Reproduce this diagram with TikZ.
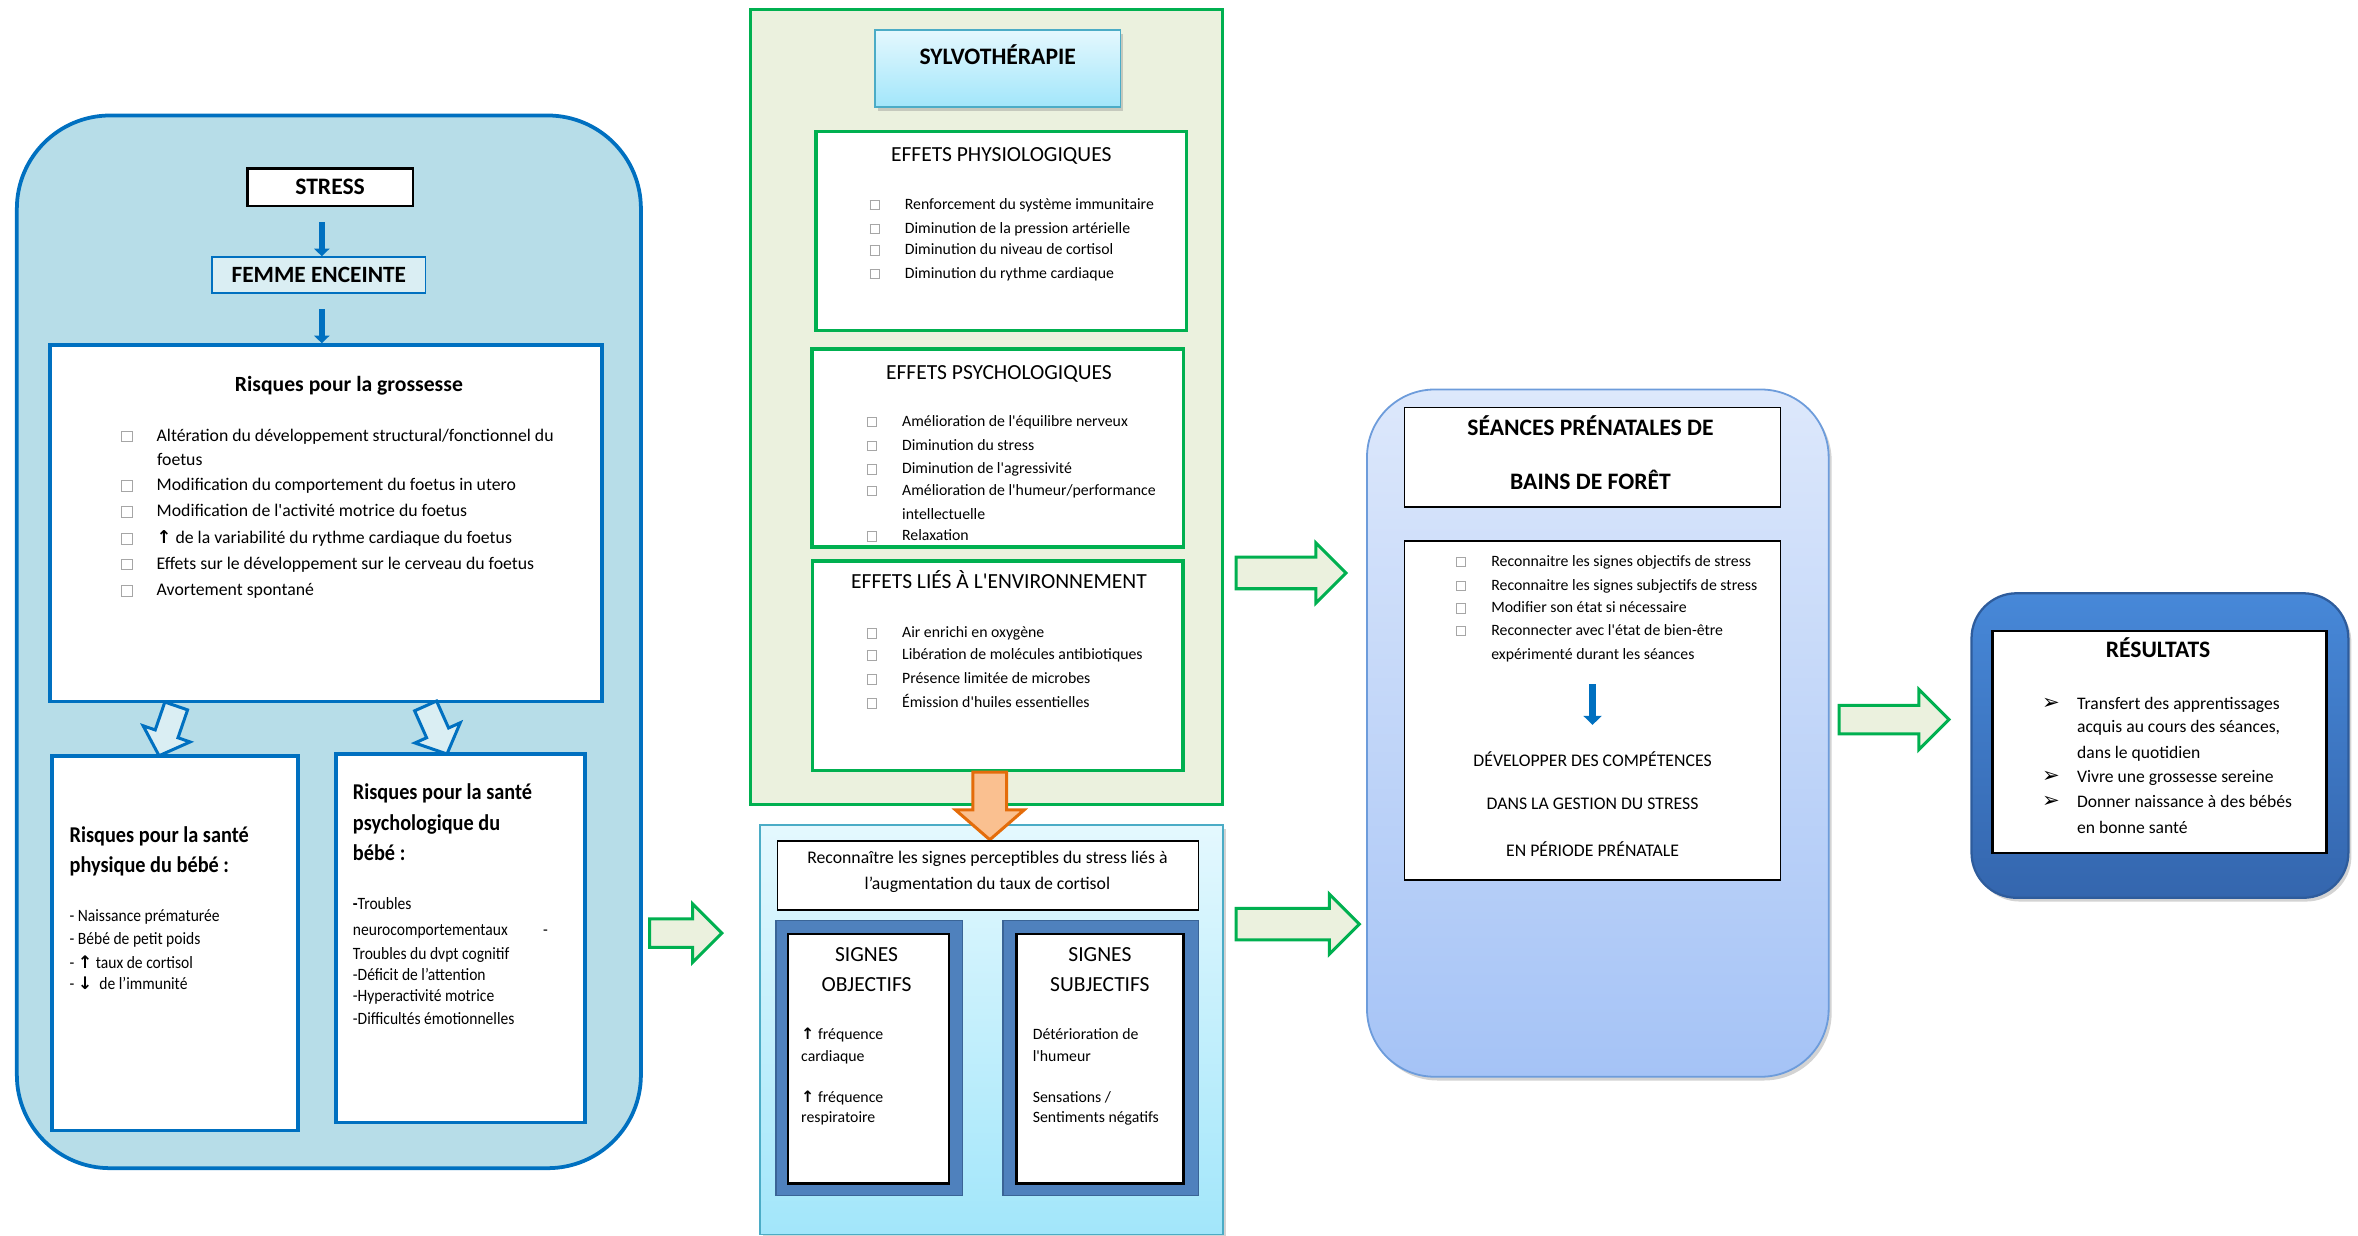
\documentclass[tikz,border=0pt]{standalone}
\usepackage{fontspec}
\setmainfont{Carlito}[Ligatures=TeXOff]
\newfontfamily\narrowfont{Carlito}[FakeStretch=0.9]
\newfontfamily\symfont{DejaVu Sans}
\usetikzlibrary{shapes.arrows,shadows,arrows.meta}

\definecolor{bleu}{HTML}{0070C0}
\definecolor{bleuclair}{HTML}{B7DDE8}
\definecolor{bleupale}{HTML}{DAEEF3}
\definecolor{vert}{HTML}{00B050}
\definecolor{vertpale}{HTML}{EBF1DE}
\definecolor{orangefonce}{HTML}{E46C0A}
\definecolor{orangepale}{HTML}{FAC090}
\definecolor{cadre}{HTML}{4F81BD}
\definecolor{cadrebord}{HTML}{3A6496}
\definecolor{cyanbord}{HTML}{4BACC6}
\definecolor{cyanhaut}{HTML}{E4F8FE}
\definecolor{cyanbas}{HTML}{A2E6FA}
\definecolor{seanceshaut}{HTML}{DDE8FB}
\definecolor{seancesbas}{HTML}{A5C3F6}
\definecolor{seancesbord}{HTML}{6D9CDB}
\definecolor{resulthaut}{HTML}{4788D8}
\definecolor{resultbas}{HTML}{3466AE}
\definecolor{resultbord}{HTML}{2E5C9C}
\definecolor{gris}{HTML}{A6A6A6}

\newcommand{\fs}[1]{\fontsize{#1}{#1}\selectfont}
\newcommand{\up}{{\symfont\bfseries ↑}}
\newcommand{\down}{{\symfont\bfseries ↓}}
\newcommand{\puce}{{\symfont\scalebox{1.2}{➢}}}
\newcommand{\cb}{\textcolor{gris}{\setlength{\fboxsep}{0pt}\setlength{\fboxrule}{0.5pt}\fbox{\rule{0pt}{.55em}\rule{.55em}{0pt}}}}
\newcommand{\caseitem}[1]{\makebox[23.5pt][l]{\cb}#1}

\tikzset{
  taille/.style n args={2}{minimum width=#1pt, minimum height=#2pt, inner sep=0pt},
  ligne/.style={inner sep=0pt, anchor=west, text height=1.5ex, text depth=.25ex, yshift=-1.5pt},
  centre/.style={inner sep=0pt, text height=1.5ex, text depth=.25ex, yshift=-1.5pt},
  fleche/.style n args={4}{single arrow, anchor=tail, inner xsep=0pt, inner ysep=#1pt,
    text height=0pt, text depth=0pt, single arrow head extend=#2pt,
    minimum height=#3pt, minimum width=0pt, single arrow tip angle=#4},
  flechevert/.style={draw=vert, fill=vertpale, line width=2pt},
  flechebleue/.style={draw=bleu, line width=4pt, -{Triangle[width=10pt,length=5pt]}},
  ombre/.style={drop shadow={opacity=.35, shadow xshift=2pt, shadow yshift=-2.5pt}}
}

\begin{document}
\begin{tikzpicture}[x=1pt,y=-1pt]
\useasboundingbox (0,0) rectangle (1568,821.3);

% panneau de gauche
\node[taille={415}{700}, draw=bleu, fill=bleuclair, line width=2.5pt, rounded corners=62pt] (gauche) at (218.7,426.8) {};
\node[taille={110}{25}, draw=black, fill=white, line width=1.5pt, font=\bfseries\fs{15.7}] (stress) at (219.5,124.5) {STRESS};
\node[taille={142}{24}, draw=bleu, fill=bleupale, line width=1.2pt, font=\bfseries\fs{15.5}] (femme) at (212,183) {FEMME ENCEINTE};
\node[taille={367}{237}, draw=bleu, fill=white, line width=2.5pt] (grossesse) at (217,348) {};
\node[taille={163.5}{249}, draw=bleu, fill=white, line width=2.5pt] (physique) at (116.2,627.2) {};
\node[taille={165.5}{245}, draw=bleu, fill=white, line width=2.5pt] (psycho) at (306,624) {};

\coordinate (axe) at (214,0);
\draw[flechebleue, shorten <=10pt] (stress.south -| axe) -- (femme.north -| axe);
\draw[flechebleue, shorten <=10pt] (femme.south -| axe) -- (grossesse.north -| axe);

\node[fleche={7}{8.5}{35}{94}, draw=bleu, fill=bleupale, line width=2pt, rotate=-109] (versPhysique) at (117.5,468.5) {};
\node[fleche={7}{8.5}{35}{94}, draw=bleu, fill=bleupale, line width=2pt, rotate=-66] (versPsycho) at (282.6,468.5) {};

\node[centre, font=\bfseries\fs{14.4}] (gt) at (232,255.7) {Risques pour la grossesse};
\node[ligne, font=\fs{11.8}] (g1) at (80.5,289) {\caseitem{Altération du développement structural/fonctionnel du}};
\node[ligne, font=\fs{11.8}] (g2) at (104.3,305) {foetus};
\node[ligne, font=\fs{11.8}] (g3) at (80.5,322) {\caseitem{Modification du comportement du foetus in utero}};
\node[ligne, font=\fs{11.8}] (g4) at (80.5,339) {\caseitem{Modification de l'activité motrice du foetus}};
\node[ligne, font=\fs{11.8}] (g5) at (80.5,357) {\caseitem{\up{} de la variabilité du rythme cardiaque du foetus}};
\node[ligne, font=\fs{11.8}] (g6) at (80.5,374) {\caseitem{Effets sur le développement sur le cerveau du foetus}};
\node[ligne, font=\fs{11.8}] (g7) at (80.5,391.6) {\caseitem{Avortement spontané}};

\node[ligne, font=\narrowfont\bfseries\fs{15}] (pt1) at (46.1,555.7) {Risques pour la santé};
\node[ligne, font=\narrowfont\bfseries\fs{15}] (pt2) at (46.1,575.8) {physique du bébé :};
\node[ligne, font=\narrowfont\fs{11.5}] (p1) at (46.1,608) {- Naissance prématurée};
\node[ligne, font=\narrowfont\fs{11.5}] (p2) at (46.1,623.8) {- Bébé de petit poids};
\node[ligne, font=\narrowfont\fs{11.5}] (p3) at (46.1,639.7) {- \up{} taux de cortisol};
\node[ligne, font=\narrowfont\fs{11.5}] (p4) at (46.1,653.8) {- \down{}\ \ de l’immunité};

\node[ligne, font=\narrowfont\bfseries\fs{15}] (st1) at (234.5,527) {Risques pour la santé};
\node[ligne, font=\narrowfont\bfseries\fs{15}] (st2) at (234.5,547.5) {psychologique du};
\node[ligne, font=\narrowfont\bfseries\fs{15}] (st3) at (234.5,567.6) {bébé :};
\node[ligne, font=\narrowfont\fs{11.5}] (s1) at (234.5,600) {{\bfseries -}Troubles};
\node[ligne, font=\narrowfont\fs{11.5}] (s2) at (234.5,617.5) {neurocomportementaux};
\node[ligne, font=\narrowfont\fs{11.5}] (s2b) at (361,617.5) {-};
\node[ligne, font=\narrowfont\fs{11.5}] (s3) at (234.5,633.4) {Troubles du dvpt cognitif};
\node[ligne, font=\narrowfont\fs{11.5}] (s4) at (234.5,647.6) {-Déficit de l’attention};
\node[ligne, font=\narrowfont\fs{11.5}] (s5) at (234.5,661.7) {-Hyperactivité motrice};
\node[ligne, font=\narrowfont\fs{11.5}] (s6) at (234.5,676.5) {-Difficultés émotionnelles};

\node[fleche={8.5}{10}{48}{90}, flechevert] (versSignes) at (431,620.5) {};

% sylvotherapie
\node[taille={314}{529}, draw=vert, fill=vertpale, line width=2pt] (sylvo) at (656,270.5) {};
\node[taille={163}{51}, draw=cyanbord, top color=cyanhaut, bottom color=cyanbas, line width=1pt, ombre] (sylvotitre) at (663.5,45.5) {};
\node[centre, font=\bfseries\fs{15.7}] (sylvotexte) at (663.5,38.5) {SYLVOTHÉRAPIE};
\node[taille={246.4}{132.2}, draw=vert, fill=white, line width=2.5pt] (physio) at (665.8,153.6) {};
\node[taille={247}{131.5}, draw=vert, fill=white, line width=2.5pt] (psychologique) at (663.5,297.8) {};
\node[taille={246.5}{139.6}, draw=vert, fill=white, line width=2.5pt] (environnement) at (663.5,442.6) {};

\node[centre, font=\fs{14.3}] (et1) at (665.8,103) {EFFETS PHYSIOLOGIQUES};
\node[ligne, font=\fs{10.5}] (e1) at (578,134.5) {\caseitem{Renforcement du système immunitaire}};
\node[ligne, font=\fs{10.5}] (e2) at (578,150.5) {\caseitem{Diminution de la pression artérielle}};
\node[ligne, font=\fs{10.5}] (e3) at (578,165) {\caseitem{Diminution du niveau de cortisol}};
\node[ligne, font=\fs{10.5}] (e4) at (578,180.5) {\caseitem{Diminution du rythme cardiaque}};

\node[centre, font=\fs{14.3}] (et2) at (664.3,247.7) {EFFETS PSYCHOLOGIQUES};
\node[ligne, font=\fs{10.5}] (f1) at (576.2,279) {\caseitem{Amélioration de l'équilibre nerveux}};
\node[ligne, font=\fs{10.5}] (f2) at (576.2,295) {\caseitem{Diminution du stress}};
\node[ligne, font=\fs{10.5}] (f3) at (576.2,310.5) {\caseitem{Diminution de l'agressivité}};
\node[ligne, font=\fs{10.5}] (f4) at (576.2,325) {\caseitem{Amélioration de l'humeur/performance}};
\node[ligne, font=\fs{10.5}] (f5) at (599.7,341) {intellectuelle};
\node[ligne, font=\fs{10.5}] (f6) at (576.2,355) {\caseitem{Relaxation}};

\node[centre, font=\fs{14.3}] (et3) at (664.3,387) {EFFETS LIÉS À L'ENVIRONNEMENT};
\node[ligne, font=\fs{10.5}] (h1) at (576.2,419.6) {\caseitem{Air enrichi en oxygène}};
\node[ligne, font=\fs{10.5}] (h2) at (576.2,434.3) {\caseitem{Libération de molécules antibiotiques}};
\node[ligne, font=\fs{10.5}] (h3) at (576.2,450.2) {\caseitem{Présence limitée de microbes}};
\node[ligne, font=\fs{10.5}] (h4) at (576.2,466) {\caseitem{Émission d'huiles essentielles}};

% signes perceptibles
\node[taille={308}{272.4}, draw=cyanbord, top color=cyanhaut, bottom color=cyanbas, line width=1pt, ombre] (signes) at (659.3,684.8) {};
\node[fleche={10.2}{11.6}{45}{98}, draw=orangefonce, fill=orangepale, line width=2pt, rotate=-90] (versSignesBas) at (658.2,512.4) {};
\node[taille={280}{46}, draw=black, fill=white, line width=1.2pt] (reconnaitre) at (657,582) {};
\node[centre, font=\fs{11.8}] (r1) at (656.6,569.6) {Reconnaître les signes perceptibles du stress liés à};
\node[centre, font=\fs{11.8}] (r2) at (656.6,586.9) {l’augmentation du taux de cortisol};

\node[taille={124}{183}, draw=cadrebord, fill=cadre, line width=1pt] (objectifs) at (578,703.5) {};
\node[taille={107}{166}, draw=black, fill=white, line width=1.5pt] (objectifsIn) at (577.5,704) {};
\node[taille={130}{183}, draw=cadrebord, fill=cadre, line width=1pt] (subjectifs) at (732,703.5) {};
\node[taille={111}{166}, draw=black, fill=white, line width=1.5pt] (subjectifsIn) at (731.5,704) {};

\node[centre, font=\fs{14.3}] (ot1) at (576.2,635) {SIGNES};
\node[centre, font=\fs{14.3}] (ot2) at (576.2,654.5) {OBJECTIFS};
\node[ligne, font=\fs{10.5}] (o1) at (532.6,687) {\up{} fréquence};
\node[ligne, font=\fs{10.5}] (o2) at (532.6,701.5) {cardiaque};
\node[ligne, font=\fs{10.5}] (o3) at (532.6,728.7) {\up{} fréquence};
\node[ligne, font=\fs{10.5}] (o4) at (532.6,742) {respiratoire};

\node[centre, font=\fs{14.3}] (ut1) at (731.4,635) {SIGNES};
\node[centre, font=\fs{14.3}] (ut2) at (731.4,654.5) {SUBJECTIFS};
\node[ligne, font=\fs{10.5}] (u1) at (686.6,687) {Détérioration de};
\node[ligne, font=\fs{10.5}] (u2) at (686.6,701.5) {l'humeur};
\node[ligne, font=\fs{10.5}] (u3) at (686.6,728.7) {Sensations /};
\node[ligne, font=\fs{10.5}] (u4) at (686.6,742) {Sentiments négatifs};

\node[fleche={9.5}{9.5}{73}{90}, flechevert] (versSeances1) at (821,381) {};
\node[fleche={9.5}{9.5}{82}{90}, flechevert] (versSeances2) at (821,614.5) {};

% seances
\node[taille={307}{457}, draw=seancesbord, top color=seanceshaut, bottom color=seancesbas, line width=1.2pt, rounded corners=45pt, ombre] (seances) at (1062.5,487.5) {};
\node[taille={250}{66}, draw=black, fill=white, line width=1.2pt] (seancestitre) at (1059,304) {};
\node[centre, font=\bfseries\fs{15.7}] (sa1) at (1057.6,285) {SÉANCES PRÉNATALES DE};
\node[centre, font=\bfseries\fs{15.7}] (sa2) at (1057.6,321) {BAINS DE FORÊT};
\node[taille={250}{225}, draw=black, fill=white, line width=1.2pt] (seancesliste) at (1059,472.5) {};
\node[ligne, font=\fs{10.5}] (k1) at (968,372) {\caseitem{Reconnaitre les signes objectifs de stress}};
\node[ligne, font=\fs{10.5}] (k2) at (968,388) {\caseitem{Reconnaitre les signes subjectifs de stress}};
\node[ligne, font=\fs{10.5}] (k3) at (968,403) {\caseitem{Modifier son état si nécessaire}};
\node[ligne, font=\fs{10.5}] (k4) at (968,418) {\caseitem{Reconnecter avec l'état de bien-être}};
\node[ligne, font=\fs{10.5}] (k5) at (991.5,434) {expérimenté durant les séances};
\coordinate (devHaut) at (1059,455);
\coordinate (devBas) at (1059,482);
\draw[draw=bleu, line width=4.5pt, -{Triangle[width=12pt,length=6pt]}] (devHaut) -- (devBas);
\node[centre, font=\fs{11.8}] (d1) at (1059,505) {DÉVELOPPER DES COMPÉTENCES};
\node[centre, font=\fs{11.8}] (d2) at (1059,534) {DANS LA GESTION DU STRESS};
\node[centre, font=\fs{11.8}] (d3) at (1059,565) {EN PÉRIODE PRÉNATALE};

\node[fleche={8.5}{10.5}{73}{90}, flechevert] (versResultats) at (1222,478.5) {};

% resultats
\node[taille={250.6}{202.5}, draw=resultbord, top color=resulthaut, bottom color=resultbas, line width=1.5pt, rounded corners=30pt, ombre] (resultats) at (1436.3,495.75) {};
\node[taille={222}{147.4}, draw=black, fill=white, line width=1.5pt] (resultatsIn) at (1436,493.3) {};
\node[centre, font=\bfseries\fs{15.7}] (rt) at (1435,433) {RÉSULTATS};
\node[ligne, font=\fs{11.7}] (b1) at (1357.7,467) {\makebox[23.3pt][l]{\puce}Transfert des apprentissages};
\node[ligne, font=\fs{11.7}] (b2) at (1381,482.6) {acquis au cours des séances,};
\node[ligne, font=\fs{11.7}] (b3) at (1381,500) {dans le quotidien};
\node[ligne, font=\fs{11.7}] (b4) at (1357.7,516) {\makebox[23.3pt][l]{\puce}Vivre une grossesse sereine};
\node[ligne, font=\fs{11.7}] (b5) at (1357.7,532.6) {\makebox[23.3pt][l]{\puce}Donner naissance à des bébés};
\node[ligne, font=\fs{11.7}] (b6) at (1381,549.7) {en bonne santé};
\end{tikzpicture}
\end{document}
